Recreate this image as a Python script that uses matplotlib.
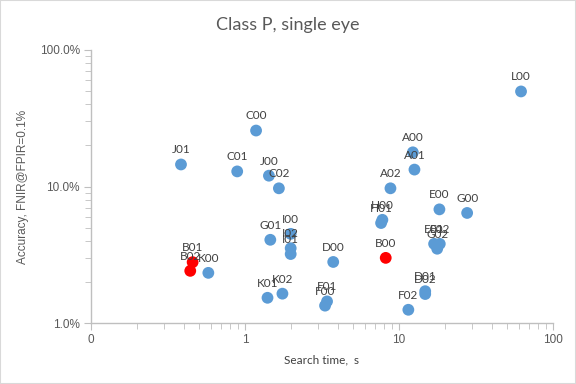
import matplotlib
matplotlib.use("Agg")
import matplotlib.pyplot as plt
from matplotlib.ticker import FixedLocator, FuncFormatter, NullFormatter
import numpy as np

# ## DATA ##################################################################### #

NAMES = ["L00", "C00", "J01", "C01", "J00", "C02", "A00", "A01", "A02",
         "E00", "G00", "H00", "H01", "E01", "E02", "G02", "B00", "D00",
         "D01", "D02", "F02", "F01", "F00", "K01", "K02", "K00", "B01",
         "B02", "G01", "I00", "I02", "I01"]

SEARCH_TIME = [62.0, 1.18, 0.384, 0.89, 1.43, 1.66, 12.3, 12.6, 8.8,
               18.3, 27.7, 7.8, 7.65, 16.9, 18.4, 17.7, 8.2, 3.74,
               14.8, 14.8, 11.5, 3.41, 3.31, 1.40, 1.75, 0.578, 0.457,
               0.441, 1.46, 1.98, 1.98, 1.98]

FNIR = [0.497, 0.257, 0.145, 0.129, 0.120, 0.097, 0.178, 0.133, 0.097,
        0.068, 0.064, 0.057, 0.054, 0.038, 0.038, 0.035, 0.030, 0.028,
        0.0171, 0.0163, 0.0125, 0.0144, 0.0134, 0.0153, 0.0164, 0.0233, 0.0279,
        0.0241, 0.0407, 0.045, 0.0353, 0.032]

HIGHLIGHT = ["B00", "B01", "B02"]

# ## STYLE #################################################################### #

BLUE = "#5B9BD5"
RED = "#FF0000"
GRID_GREY = "#BFBFBF"
TEXT_GREY = "#595959"

# ## PLOT ##################################################################### #

fig = plt.figure(figsize=(5.76, 3.84), dpi=100)
fig.patches.append(plt.Rectangle((0, 0), 1, 1, transform=fig.transFigure,
                                 fill=False, edgecolor="#D9D9D9", linewidth=1.5))
ax = fig.add_axes([91 / 576, 1 - 323 / 384, 462 / 576, 273 / 384])

colors = [RED if n in HIGHLIGHT else BLUE for n in NAMES]
ax.scatter(SEARCH_TIME, FNIR, s=72, c=colors, zorder=3, linewidths=0)

for name, x, y in zip(NAMES, SEARCH_TIME, FNIR):
    ax.annotate(name, (x, y), xytext=(0, 10.5), textcoords="offset points",
                ha="center", va="center", fontsize=8.5, color="#404040",
                family="Lato", zorder=4)

ax.set_xscale("log")
ax.set_yscale("log")
ax.set_xlim(0.1, 100)
ax.set_ylim(0.01, 1.0)

# x axis: Excel style labels 0, 1, 10, 100
ax.xaxis.set_major_locator(FixedLocator([0.1, 1, 10, 100]))
ax.xaxis.set_major_formatter(FuncFormatter(lambda v, p: "%d" % round(v)))
ax.xaxis.set_minor_locator(FixedLocator(
    [m * d for d in (0.1, 1, 10) for m in range(2, 10)]))
ax.xaxis.set_minor_formatter(NullFormatter())

ax.yaxis.set_major_locator(FixedLocator([0.01, 0.1, 1.0]))
ax.yaxis.set_major_formatter(FuncFormatter(lambda v, p: "%.1f%%" % (v * 100)))
ax.yaxis.set_minor_locator(FixedLocator(
    [m * d for d in (0.01, 0.1) for m in range(2, 10)]))
ax.yaxis.set_minor_formatter(NullFormatter())

for side in ("top", "right"):
    ax.spines[side].set_visible(False)
for side in ("left", "bottom"):
    ax.spines[side].set_color(GRID_GREY)
    ax.spines[side].set_linewidth(1)

ax.tick_params(which="both", color=GRID_GREY, direction="out")
ax.tick_params(which="major", length=5, labelsize=8.5, labelcolor=TEXT_GREY, pad=3)
ax.tick_params(which="minor", length=4)
for lab in ax.get_xticklabels() + ax.get_yticklabels():
    lab.set_family("Liberation Sans")

ax.set_xlabel("Search time,  s", fontsize=8.5, color="#404040",
              family="Lato", labelpad=6)
ax.set_ylabel("Accuracy, FNIR@FPIR=0.1%", fontsize=8.5, color=TEXT_GREY,
              family="Liberation Sans", labelpad=8)
fig.suptitle("Class P, single eye", x=0.5, y=0.955, fontsize=13,
             color=TEXT_GREY, family="Lato")

fig.savefig("out.png", dpi=100, facecolor="w")
plt.close(fig)
